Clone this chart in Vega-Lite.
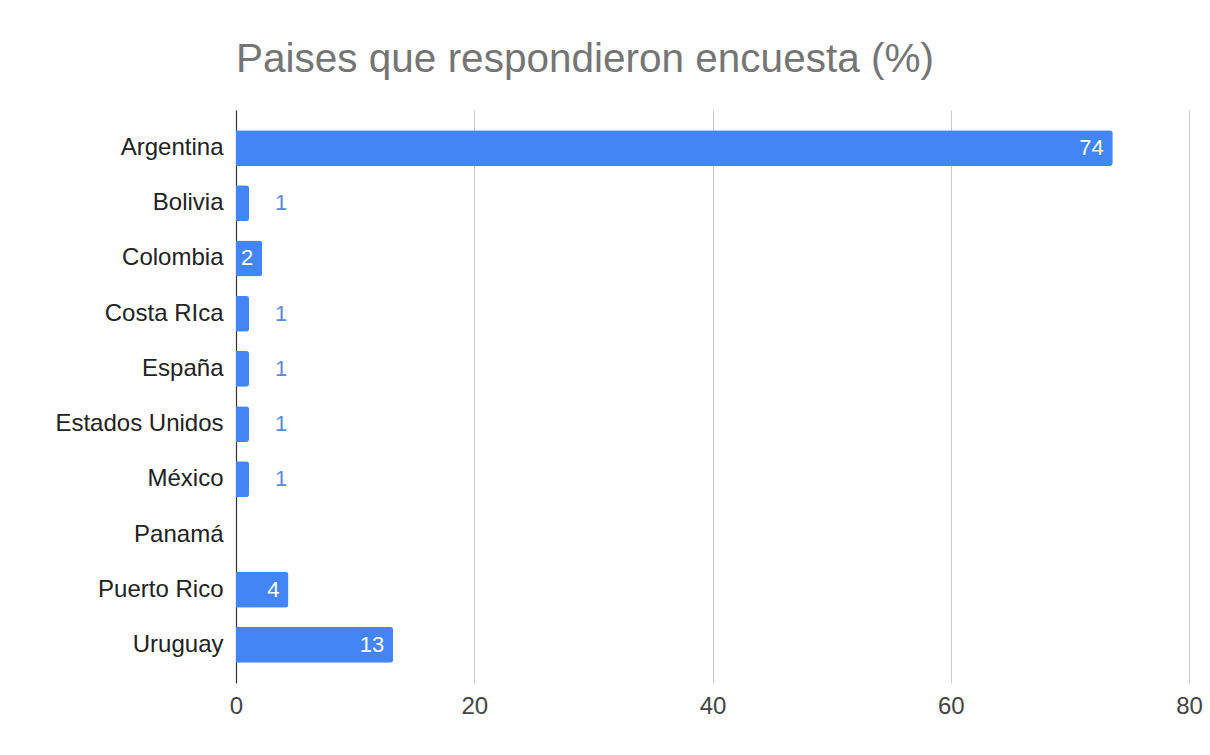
{
  "$schema": "https://vega.github.io/schema/vega-lite/v6.json",
  "width": 953,
  "height": 573,
  "autosize": {"type": "none"},
  "padding": {"left": 236, "top": 110, "right": 21, "bottom": 72},
  "background": "white",
  "title": {
    "text": "Paises que respondieron encuesta (%)",
    "anchor": "start",
    "frame": "group",
    "font": "Liberation Sans",
    "fontSize": 40.5,
    "fontWeight": "normal",
    "color": "#757575",
    "offset": 30
  },
  "data": {
    "values": [
      {"pais": "Argentina", "valor": 73.6},
      {"pais": "Bolivia", "valor": 1.1},
      {"pais": "Colombia", "valor": 2.2},
      {"pais": "Costa RIca", "valor": 1.1},
      {"pais": "España", "valor": 1.1},
      {"pais": "Estados Unidos", "valor": 1.1},
      {"pais": "México", "valor": 1.1},
      {"pais": "Panamá", "valor": 0},
      {"pais": "Puerto Rico", "valor": 4.4},
      {"pais": "Uruguay", "valor": 13.2}
    ]
  },
  "encoding": {
    "y": {
      "field": "pais",
      "type": "nominal",
      "sort": null,
      "title": null,
      "scale": {"paddingInner": 0.35, "paddingOuter": 0.365},
      "axis": {
        "ticks": false,
        "domainColor": "#333333",
        "domainWidth": 1.2,
        "labelFont": "Liberation Sans",
        "labelFontSize": 24,
        "labelColor": "#222222",
        "labelPadding": 13,
        "grid": false
      }
    },
    "x": {
      "field": "valor",
      "type": "quantitative",
      "title": null,
      "scale": {"domain": [0, 80], "nice": false},
      "axis": {
        "values": [0, 20, 40, 60, 80],
        "domain": false,
        "ticks": false,
        "grid": true,
        "gridColor": "#cccccc",
        "gridWidth": 1,
        "labelFont": "Liberation Sans",
        "labelFontSize": 24,
        "labelColor": "#444444",
        "labelPadding": 11,
        "labelFlush": false
      }
    }
  },
  "layer": [
    {
      "mark": {"type": "bar", "color": "#4285F4", "cornerRadiusEnd": 3}
    },
    {
      "transform": [{"filter": "datum.valor >= 1.5"}],
      "mark": {
        "type": "text",
        "align": "right",
        "baseline": "middle",
        "dx": -9,
        "color": "white",
        "font": "Liberation Sans",
        "fontSize": 22
      },
      "encoding": {"text": {"field": "valor", "type": "quantitative", "format": ".0f"}}
    },
    {
      "transform": [{"filter": "datum.valor > 0 && datum.valor < 1.5"}],
      "mark": {
        "type": "text",
        "align": "left",
        "baseline": "middle",
        "dx": 26,
        "color": "#5b8ad6",
        "font": "Liberation Sans",
        "fontSize": 22
      },
      "encoding": {"text": {"field": "valor", "type": "quantitative", "format": ".0f"}}
    }
  ],
  "config": {"view": {"stroke": null}}
}
